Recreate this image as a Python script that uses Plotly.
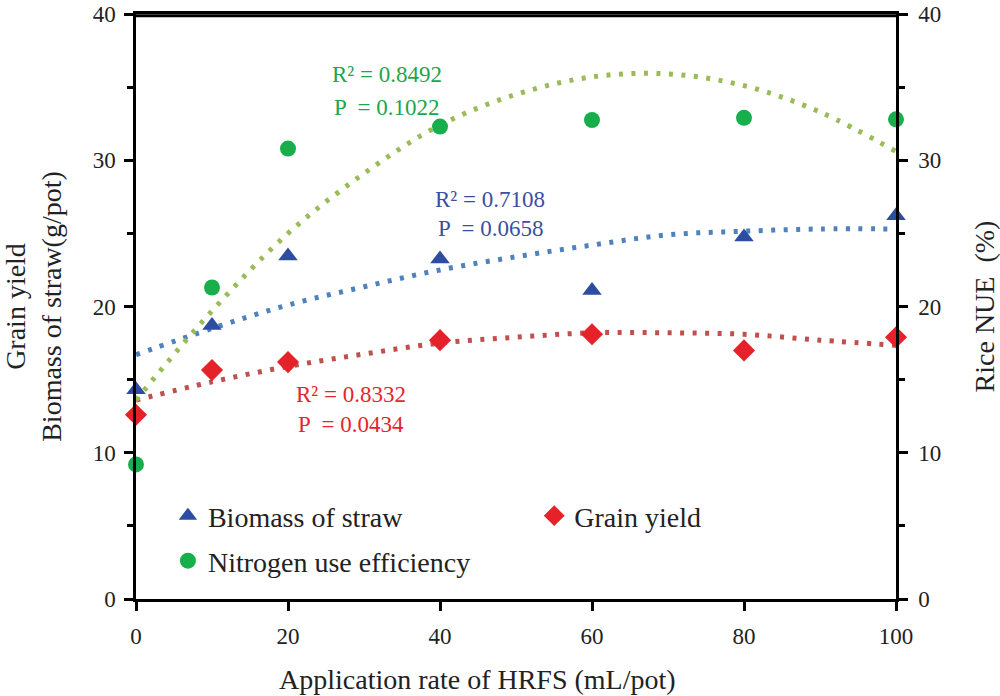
import plotly.graph_objects as go

# ---- data ----
rates = [0, 10, 20, 40, 60, 80, 100]
biomass = [14.3, 18.7, 23.45, 23.25, 21.1, 24.75, 26.2]
grain = [12.6, 15.65, 16.2, 17.7, 18.1, 17.0, 17.9]
nue = [9.2, 21.3, 30.8, 32.3, 32.75, 32.9, 32.8]

trend_x = [0, 10, 20, 30, 40, 50, 60, 70, 80, 90, 100]
biomass_trend = [16.7, 18.5, 20.1, 21.35, 22.5, 23.4, 24.2, 24.9, 25.15, 25.3, 25.3]
grain_trend = [13.6, 14.85, 15.9, 16.75, 17.5, 17.9, 18.2, 18.2, 18.1, 17.7, 17.35]
nue_trend = [13.6, 19.7, 25.0, 29.1, 32.4, 34.5, 35.7, 35.9, 35.1, 33.3, 30.6]

x_ticks = [0, 20, 40, 60, 80, 100]
y_ticks = [0, 10, 20, 30, 40]

FONT = "Liberation Serif, Times New Roman, serif"
C_TRI = "#2D4DA3"
C_DIA = "#E5212A"
C_CIR = "#17AE4B"
C_T_BLUE = "#4F81BD"
C_T_RED = "#C0504D"
C_T_GREEN = "#9BBB59"

fig = go.Figure()

dot = "4px,8.5px"
fig.add_trace(go.Scatter(x=trend_x, y=nue_trend, mode="lines", xaxis="x2", yaxis="y2",
                         line=dict(color=C_T_GREEN, width=5, dash=dot, shape="spline"),
                         showlegend=False, hoverinfo="skip"))
fig.add_trace(go.Scatter(x=trend_x, y=biomass_trend, mode="lines",
                         line=dict(color=C_T_BLUE, width=5, dash=dot, shape="spline"),
                         showlegend=False, hoverinfo="skip"))
fig.add_trace(go.Scatter(x=trend_x, y=grain_trend, mode="lines",
                         line=dict(color=C_T_RED, width=5, dash=dot, shape="spline"),
                         showlegend=False, hoverinfo="skip"))

fig.add_trace(go.Scatter(x=rates, y=biomass, mode="markers", name="Biomass of straw",
                         marker=dict(symbol="triangle-up", size=17, color=C_TRI),
                         legend="legend", cliponaxis=False))
fig.add_trace(go.Scatter(x=rates, y=grain, mode="markers", name="Grain yield",
                         marker=dict(symbol="diamond", size=17, color=C_DIA),
                         legend="legend2", cliponaxis=False))
fig.add_trace(go.Scatter(x=rates, y=nue, mode="markers", name="Nitrogen use efficiency",
                         marker=dict(symbol="circle", size=16, color=C_CIR),
                         xaxis="x2", yaxis="y2", legend="legend3", cliponaxis=False))

def txt(x, y, s, color):
    fig.add_annotation(x=x, y=y, xref="x", yref="y", text=s, showarrow=False,
                       font=dict(family=FONT, size=23, color=color),
                       xanchor="center", yanchor="middle")

txt(33.0, 35.83, "R² = 0.8492", "#1DA64B")
txt(33.0, 33.64, "P  = 0.1022", "#1DA64B")
txt(46.6, 27.35, "R² = 0.7108", "#3B4FA0")
txt(46.6, 25.3, "P  = 0.0658", "#3B4FA0")
txt(28.3, 13.99, "R² = 0.8332", "#E3262D")
txt(28.3, 11.9, "P  = 0.0434", "#E3262D")

# x-axis title (sits left of the axis centre in the reference)
fig.add_annotation(x=0.449, y=-0.137, xref="paper", yref="paper",
                   text="Application rate of HRFS (mL/pot)", showarrow=False,
                   font=dict(family=FONT, size=28, color="#222"),
                   xanchor="center", yanchor="middle")

# top frame line of the plot area
fig.add_shape(type="line", xref="paper", yref="paper", x0=0, x1=1, y0=0.997, y1=0.997,
              line=dict(color="black", width=3), layer="above")

axis_common = dict(showgrid=False, zeroline=False, showline=True, linecolor="black",
                   linewidth=2.5, ticks="outside", tickwidth=2.5, tickcolor="black",
                   ticklen=9, automargin=False,
                   tickfont=dict(family=FONT, size=23, color="#222"))

leg_font = dict(family=FONT, size=28, color="#222")
fig.update_layout(
    width=1000, height=696,
    margin=dict(l=136, r=104, t=14, b=97, autoexpand=False),
    plot_bgcolor="white", paper_bgcolor="white",
    font=dict(family=FONT),
    xaxis=dict(range=[0, 100], tickvals=x_ticks, mirror=True,
               ticklabelstandoff=6, **axis_common),
    xaxis2=dict(range=[0, 100], overlaying="x", side="top", anchor="y2",
                showgrid=False, zeroline=False, showline=True, linecolor="black",
                linewidth=2.5, ticks="", showticklabels=False, automargin=False),
    yaxis=dict(range=[0, 40], tickvals=y_ticks,
               minor=dict(dtick=5, ticks="outside", ticklen=6, tickwidth=2.5, tickcolor="black"),
               title=dict(text="Grain yield<br>Biomass of straw(g/pot)",
                          font=dict(family=FONT, size=28, color="#222"), standoff=23),
               ticklabelstandoff=4, **axis_common),
    yaxis2=dict(range=[0, 40], tickvals=y_ticks, overlaying="y", side="right", anchor="x2",
                minor=dict(dtick=5, ticks="outside", ticklen=6, tickwidth=2.5, tickcolor="black"),
                title=dict(text="Rice NUE  (%)",
                           font=dict(family=FONT, size=28, color="#222"), standoff=38),
                ticklabelstandoff=6, **axis_common),
    legend=dict(x=0.042, y=0.142, xanchor="left", yanchor="middle", font=leg_font),
    legend2=dict(x=0.524, y=0.142, xanchor="left", yanchor="middle", font=leg_font),
    legend3=dict(x=0.042, y=0.065, xanchor="left", yanchor="middle", font=leg_font),
)

fig.write_html("out.html", config={"displayModeBar": False},
               post_script="document.body.style.margin='0px';document.body.style.overflow='hidden';")
